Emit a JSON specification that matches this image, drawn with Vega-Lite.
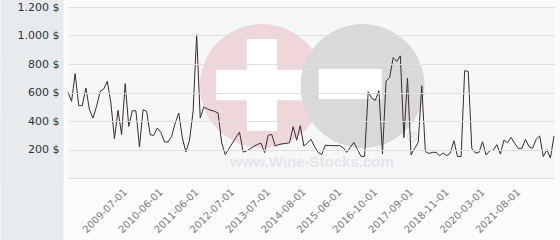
{
  "$schema": "https://vega.github.io/schema/vega-lite/v6.json",
  "width": 486,
  "height": 171,
  "autosize": "none",
  "padding": {"left": 68, "top": 7, "right": 6, "bottom": 62},
  "background": "#fbfbfc",
  "config": {"view": {"stroke": null, "fill": "#f6f7f9"}},
  "data": {"values": [
    {"d": "2008-03-01", "p": 601}, {"d": "2008-04-01", "p": 538}, {"d": "2008-05-01", "p": 732}, {"d": "2008-06-01", "p": 508},
    {"d": "2008-07-01", "p": 508}, {"d": "2008-08-01", "p": 632}, {"d": "2008-09-01", "p": 479}, {"d": "2008-10-01", "p": 421},
    {"d": "2008-11-01", "p": 503}, {"d": "2008-12-01", "p": 608}, {"d": "2009-01-01", "p": 625}, {"d": "2009-02-01", "p": 678},
    {"d": "2009-03-01", "p": 526}, {"d": "2009-04-01", "p": 276}, {"d": "2009-05-01", "p": 475}, {"d": "2009-06-01", "p": 304},
    {"d": "2009-07-01", "p": 662}, {"d": "2009-08-01", "p": 363}, {"d": "2009-09-01", "p": 472}, {"d": "2009-10-01", "p": 472},
    {"d": "2009-11-01", "p": 218}, {"d": "2009-12-01", "p": 479}, {"d": "2010-01-01", "p": 468}, {"d": "2010-02-01", "p": 304},
    {"d": "2010-04-01", "p": 299}, {"d": "2010-05-01", "p": 351}, {"d": "2010-06-01", "p": 320}, {"d": "2010-07-01", "p": 253},
    {"d": "2010-08-01", "p": 253}, {"d": "2010-09-01", "p": 292}, {"d": "2010-10-01", "p": 386}, {"d": "2010-11-01", "p": 456},
    {"d": "2010-12-01", "p": 281}, {"d": "2011-02-01", "p": 182}, {"d": "2011-03-01", "p": 264}, {"d": "2011-05-01", "p": 465},
    {"d": "2011-06-01", "p": 1006}, {"d": "2011-07-01", "p": 421}, {"d": "2011-08-01", "p": 498}, {"d": "2011-09-01", "p": 484},
    {"d": "2011-10-01", "p": 475}, {"d": "2011-11-01", "p": 468}, {"d": "2012-01-01", "p": 456}, {"d": "2012-02-01", "p": 246},
    {"d": "2012-04-01", "p": 164}, {"d": "2012-05-01", "p": 205}, {"d": "2012-07-01", "p": 245}, {"d": "2012-08-01", "p": 285},
    {"d": "2012-09-01", "p": 322}, {"d": "2012-10-01", "p": 182}, {"d": "2012-11-01", "p": 190}, {"d": "2012-12-01", "p": 205},
    {"d": "2013-01-01", "p": 222}, {"d": "2013-03-01", "p": 235}, {"d": "2013-04-01", "p": 245}, {"d": "2013-06-01", "p": 178},
    {"d": "2013-07-01", "p": 300}, {"d": "2013-08-01", "p": 305}, {"d": "2013-09-01", "p": 225}, {"d": "2013-10-01", "p": 235},
    {"d": "2013-12-01", "p": 240}, {"d": "2014-01-01", "p": 242}, {"d": "2014-02-01", "p": 248}, {"d": "2014-04-01", "p": 360},
    {"d": "2014-05-01", "p": 265}, {"d": "2014-06-01", "p": 367}, {"d": "2014-08-01", "p": 225}, {"d": "2014-09-01", "p": 245},
    {"d": "2014-10-01", "p": 272}, {"d": "2014-11-01", "p": 220}, {"d": "2014-12-01", "p": 180}, {"d": "2015-01-01", "p": 165},
    {"d": "2015-02-01", "p": 230}, {"d": "2015-03-01", "p": 228}, {"d": "2015-04-01", "p": 228}, {"d": "2015-05-01", "p": 226},
    {"d": "2015-06-01", "p": 228}, {"d": "2015-08-01", "p": 212}, {"d": "2015-10-01", "p": 180}, {"d": "2015-11-01", "p": 215},
    {"d": "2016-01-01", "p": 250}, {"d": "2016-03-01", "p": 200}, {"d": "2016-04-01", "p": 152}, {"d": "2016-06-01", "p": 152},
    {"d": "2016-07-01", "p": 605}, {"d": "2016-09-01", "p": 560}, {"d": "2016-10-01", "p": 545}, {"d": "2016-11-01", "p": 613},
    {"d": "2016-12-01", "p": 168}, {"d": "2017-01-01", "p": 680}, {"d": "2017-02-01", "p": 705}, {"d": "2017-03-01", "p": 845},
    {"d": "2017-04-01", "p": 818}, {"d": "2017-05-01", "p": 857}, {"d": "2017-06-01", "p": 283}, {"d": "2017-08-01", "p": 700},
    {"d": "2017-09-01", "p": 162}, {"d": "2017-10-01", "p": 208}, {"d": "2017-11-01", "p": 250}, {"d": "2018-01-01", "p": 647},
    {"d": "2018-02-01", "p": 186}, {"d": "2018-04-01", "p": 172}, {"d": "2018-05-01", "p": 180}, {"d": "2018-07-01", "p": 180},
    {"d": "2018-08-01", "p": 157}, {"d": "2018-10-01", "p": 175}, {"d": "2018-11-01", "p": 157}, {"d": "2019-01-01", "p": 175},
    {"d": "2019-02-01", "p": 262}, {"d": "2019-04-01", "p": 151}, {"d": "2019-06-01", "p": 151}, {"d": "2019-07-01", "p": 753},
    {"d": "2019-09-01", "p": 748}, {"d": "2019-10-01", "p": 208}, {"d": "2019-12-01", "p": 175}, {"d": "2020-02-01", "p": 180},
    {"d": "2020-03-01", "p": 255}, {"d": "2020-05-01", "p": 161}, {"d": "2020-07-01", "p": 191}, {"d": "2020-08-01", "p": 195},
    {"d": "2020-10-01", "p": 234}, {"d": "2020-12-01", "p": 168}, {"d": "2021-01-01", "p": 266}, {"d": "2021-03-01", "p": 248},
    {"d": "2021-05-01", "p": 285}, {"d": "2021-06-01", "p": 243}, {"d": "2021-08-01", "p": 208}, {"d": "2021-09-01", "p": 208},
    {"d": "2021-10-01", "p": 271}, {"d": "2021-12-01", "p": 220}, {"d": "2022-01-01", "p": 208}, {"d": "2022-03-01", "p": 271},
    {"d": "2022-04-01", "p": 295}, {"d": "2022-06-01", "p": 150}, {"d": "2022-07-01", "p": 199}, {"d": "2022-09-01", "p": 140},
    {"d": "2022-10-01", "p": 295}
  ]},
  "layer": [
    {
      "data": {"values": [{}]},
      "mark": {"type": "point", "filled": true, "shape": "circle", "size": 15376, "color": "#efd6db", "opacity": 1, "strokeWidth": 0, "xOffset": 1},
      "encoding": {
        "x": {"datum": "2013-04-01", "type": "ordinal"},
        "y": {"datum": 646, "type": "quantitative", "axis": {"orient": "left", "values": [0, 400, 1200], "labels": false, "domain": false, "grid": false, "ticks": true, "tickSize": 63, "tickWidth": 124, "tickColor": "#e8ebee", "tickCap": "butt", "offset": 5, "zindex": 0, "title": null}}
      }
    },
    {
      "data": {"values": [{}]},
      "mark": {"type": "point", "filled": true, "shape": "M-1,-0.33H-0.33V-1H0.33V-0.33H1V0.33H0.33V1H-0.33V0.33H-1Z", "size": 8464, "color": "#ffffff", "opacity": 1, "strokeWidth": 0, "xOffset": 1},
      "encoding": {
        "x": {"datum": "2013-04-01", "type": "ordinal"},
        "y": {"datum": 653, "type": "quantitative", "axis": null}
      }
    },
    {
      "data": {"values": [{}]},
      "mark": {"type": "point", "filled": true, "shape": "circle", "size": 15376, "color": "#d9d9dc", "opacity": 1, "strokeWidth": 0, "xOffset": 1.5},
      "encoding": {
        "x": {"datum": "2016-04-01", "type": "ordinal"},
        "y": {"datum": 646, "type": "quantitative", "axis": null}
      }
    },
    {
      "data": {"values": [{}]},
      "mark": {"type": "point", "filled": true, "shape": "M-1,-0.476H1V0.476H-1Z", "size": 3969, "color": "#ffffff", "opacity": 1, "strokeWidth": 0, "xOffset": 0},
      "encoding": {
        "x": {"datum": "2015-11-01", "type": "ordinal"},
        "y": {"datum": 660, "type": "quantitative", "axis": null}
      }
    },
    {
      "data": {"values": [{}]},
      "mark": {"type": "text", "text": "www.Wine-Stocks.com", "font": "Liberation Sans", "fontWeight": "bold", "fontSize": 15, "color": "#e4e5e8", "align": "center", "baseline": "middle", "xOffset": 1},
      "encoding": {
        "x": {"datum": "2014-10-01", "type": "ordinal"},
        "y": {"datum": 112, "type": "quantitative", "axis": null}
      }
    },
    {
      "data": {"values": [{}]},
      "mark": {"type": "text", "text": "®", "font": "Liberation Sans", "fontSize": 14, "color": "#d8d8db", "align": "center", "baseline": "middle", "xOffset": 1},
      "encoding": {
        "x": {"datum": "2017-09-01", "type": "ordinal"},
        "y": {"datum": 281, "type": "quantitative", "axis": null}
      }
    },
    {
      "mark": {"type": "line", "color": "#3b2a33", "strokeWidth": 1},
      "encoding": {
        "x": {"field": "d", "type": "ordinal", "scale": {"type": "point", "padding": 0},
          "axis": {"values": ["2009-07-01", "2010-06-01", "2011-06-01", "2012-07-01", "2013-07-01", "2014-08-01", "2015-06-01", "2016-10-01", "2017-09-01", "2018-11-01", "2020-03-01", "2021-08-01"],
            "labelAngle": -45, "labelFont": "DejaVu Sans", "labelFontSize": 10, "labelColor": "#7a7a7a", "ticks": false, "tickSize": 0, "labelPadding": 12,
            "domain": true, "domainColor": "#dedede", "grid": false, "title": null}},
        "y": {"field": "p", "type": "quantitative", "scale": {"domain": [0, 1200], "nice": false},
          "axis": {"orient": "left", "values": [0, 200, 400, 600, 800, 1000, 1200], "labelExpr": "datum.value == 0 ? '' : replace(format(datum.value, ','), ',', '.') + ' $'",
            "ticks": false, "domain": false, "grid": true, "gridColor": "#dedede", "labelPadding": 9, "labelFont": "DejaVu Sans", "labelFontSize": 11, "labelColor": "#333333", "title": null, "zindex": 1}}
      }
    }
  ],
  "resolve": {"axis": {"y": "independent"}}
}
